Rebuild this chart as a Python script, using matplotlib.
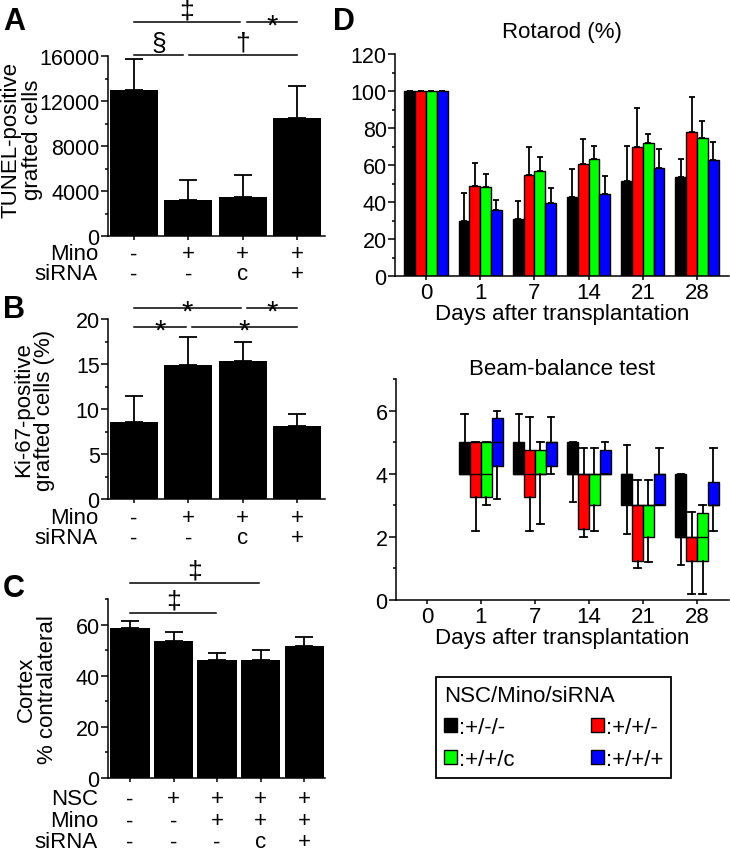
import numpy as np
import matplotlib
matplotlib.use('Agg')
import matplotlib.pyplot as plt
import matplotlib.transforms as mtransforms
from matplotlib.ticker import MultipleLocator

plt.rcParams['font.family'] = ['Liberation Sans', 'DejaVu Sans']
plt.rcParams['font.size'] = 16
plt.rcParams['axes.linewidth'] = 1.1

W, H = 730, 853

# ---- data ----
a_means = [13000, 3200, 3500, 10500]
a_errs = [2700, 1800, 1900, 2800]
b_means = [8.6, 14.9, 15.3, 8.1]
b_errs = [2.8, 3.1, 2.2, 1.3]
c_means = [58.5, 53.5, 46, 46, 51.5]
c_errs = [3.0, 3.5, 3.0, 4.0, 3.5]

mino_ab = ['-', '+', '+', '+']
sirna_ab = ['-', '-', 'c', '+']
nsc_c = ['-', '+', '+', '+', '+']
mino_c = ['-', '-', '+', '+', '+']
sirna_c = ['-', '-', '-', 'c', '+']

# brackets: (start, end, height in px, symbol)
a_sig = [(0, 1.95, 23, '‡'), (2.08, 3, 23, '*'), (0, 0.9, 56, '§'), (1.01, 3, 56, '†')]
b_sig = [(0, 1.97, 309, '*'), (2.08, 3, 309, '*'), (0, 0.96, 328, '*'), (1.07, 3, 328, '*')]
c_sig = [(0, 2.97, 584, '‡'), (0, 1.98, 614, '‡')]

days = ['0', '1', '7', '14', '21', '28']
groups = [':+/-/-', ':+/+/-', ':+/+/c', ':+/+/+']
colors = ['#000000', '#ff0000', '#00ff00', '#0000ff']

rota_means = [[100, 30, 30.6, 42.7, 51.4, 53.3],
              [100, 48.6, 54.4, 60.5, 69.9, 78.0],
              [100, 48.1, 56.8, 63.2, 71.7, 74.8],
              [100, 35.7, 39.5, 44.3, 58.2, 62.5]]
rota_tops = [[100, 44.9, 40.4, 58.0, 70.5, 63.2],
             [100, 61.0, 69.9, 74.0, 91.0, 96.8],
             [100, 55.3, 64.2, 70.5, 76.8, 83.6],
             [100, 41.0, 47.4, 54.2, 68.6, 72.4]]

# beam balance: (whislo, q1, med, q3, whishi) per group, days 1..28
beam_black = [(4, 4, 4, 5, 5.9), (4, 4, 4, 5, 5.9), (3.1, 4, 4, 5, 5),
              (2.1, 3, 4, 4, 4.9), (1.1, 2, 2, 4, 4)]
beam_red = [(2.2, 3.25, 4, 5, 5), (2.2, 3.25, 4, 4.75, 5.8), (2, 2.25, 4, 4, 4.8),
            (1, 1.25, 3, 3, 3.8), (0.2, 1.25, 2, 2, 2.8)]
beam_green = [(3, 3.25, 4, 5, 5), (2.4, 4, 4, 4.75, 5), (2.2, 3, 4, 4, 4.8),
              (1.2, 2, 3, 3, 3.8), (0.2, 1.25, 2, 2.75, 3)]
beam_blue = [(3.2, 4.25, 5, 5.75, 6), (4, 4.25, 5, 5, 5.8), (4, 4, 4, 4.75, 5),
             (3, 3, 4, 4, 4.8), (2.2, 3, 3, 3.75, 4.8)]
beam_sets = [beam_black, beam_red, beam_green, beam_blue]


def rect(l, t, r, b):
    return [l / W, 1 - b / H, (r - l) / W, (b - t) / H]


def fy(px):
    return 1 - px / H


fig = plt.figure(figsize=(W / 100, H / 100), dpi=100)


def style_axis(ax):
    for s in ['top', 'right']:
        ax.spines[s].set_visible(False)
    ax.tick_params(axis='both', which='major', direction='out', length=5, width=1.1, pad=1,
                   labelsize=15.5)
    ax.tick_params(axis='y', which='minor', direction='out', length=2.5, width=1.1)
    ax.tick_params(axis='x', which='major', length=3)


def bar_panel(ax, means, errs, xlim, ylim, major, minor, width):
    x = np.arange(len(means))
    ax.bar(x, means, width=width, color='black')
    ax.errorbar(x, means, yerr=[np.zeros(len(errs)), errs], fmt='none', ecolor='black',
                elinewidth=1.3, capsize=6.5, capthick=1.3)
    ax.set_xlim(*xlim)
    ax.set_ylim(*ylim)
    ax.set_xticks(x)
    ax.set_xticklabels([])
    ax.yaxis.set_major_locator(MultipleLocator(major))
    ax.yaxis.set_minor_locator(MultipleLocator(minor))
    style_axis(ax)


def rows(ax, labels, values, ys):
    tr = mtransforms.blended_transform_factory(ax.transData, fig.transFigure)
    for lab, vals, y in zip(labels, values, ys):
        fig.text(98 / W, fy(y), lab, ha='right', va='center', fontsize=16)
        for i, v in enumerate(vals):
            ax.text(i, fy(y), v, transform=tr, ha='center', va='center', fontsize=16)


def brackets(ax, sig):
    tr = mtransforms.blended_transform_factory(ax.transData, fig.transFigure)
    for x0, x1, y, sym in sig:
        ax.plot([x0, x1], [fy(y), fy(y)], color='black', lw=1.1, transform=tr, clip_on=False)
        if sym == '*':
            ax.text((x0 + x1) / 2, fy(y + 12), sym, transform=tr, ha='center', va='baseline',
                    fontsize=21)
        else:
            ax.text((x0 + x1) / 2, fy(y - 5), sym, transform=tr, ha='center', va='baseline',
                    fontsize=19)


# ---- A ----
axA = fig.add_axes(rect(108, 57, 325, 237))
bar_panel(axA, a_means, a_errs, (-0.479, 3.515), (0, 16000), 4000, 2000, 0.88)
axA.set_ylabel('TUNEL-positive\ngrafted cells', linespacing=1.0, fontsize=16)
axA.yaxis.set_label_coords(-0.300, 0.54)
rows(axA, ['Mino', 'siRNA'], [mino_ab, sirna_ab], [255, 275])
brackets(axA, a_sig)

# ---- B ----
axB = fig.add_axes(rect(108, 320, 325, 500))
bar_panel(axB, b_means, b_errs, (-0.479, 3.515), (0, 20), 5, 2.5, 0.88)
axB.set_ylabel('Ki-67-positive\ngrafted cells (%)', linespacing=1.0, fontsize=16)
axB.yaxis.set_label_coords(-0.244, 0.5)
rows(axB, ['Mino', 'siRNA'], [mino_ab, sirna_ab], [519, 539])
brackets(axB, b_sig)

# ---- C ----
axC = fig.add_axes(rect(108, 600, 325, 779))
bar_panel(axC, c_means, c_errs, (-0.506, 4.48), (0, 70), 20, 10, 0.9)
axC.set_ylabel('Cortex\n% contralateral', linespacing=1.0, fontsize=16)
axC.yaxis.set_label_coords(-0.23, 0.5)
rows(axC, ['NSC', 'Mino', 'siRNA'], [nsc_c, mino_c, sirna_c], [800, 822, 843])
brackets(axC, c_sig)

# ---- D top: Rotarod ----
axD1 = fig.add_axes(rect(395, 55, 729, 277))
xd = np.arange(len(days))
offsets = [-0.3, -0.1, 0.1, 0.3]
handles = []
for k in range(4):
    means = np.array(rota_means[k])
    tops = np.array(rota_tops[k])
    bc = axD1.bar(xd + offsets[k], means, width=0.2, color=colors[k], edgecolor='black',
                  linewidth=1.0, zorder=2)
    handles.append(bc)
    axD1.errorbar(xd + offsets[k], means, yerr=[np.zeros(len(means)), tops - means],
                  fmt='none', ecolor='black', elinewidth=1.3, capsize=2.5, capthick=1.3,
                  zorder=3)
axD1.set_xlim(-0.572, 5.59)
axD1.set_ylim(0, 120)
axD1.set_xticks(xd)
axD1.set_xticklabels(days, fontsize=16)
axD1.yaxis.set_major_locator(MultipleLocator(20))
axD1.yaxis.set_minor_locator(MultipleLocator(10))
style_axis(axD1)
axD1.tick_params(axis='x', labelsize=16, pad=1.5)
axD1.set_title('Rotarod (%)', fontsize=16, pad=12)
axD1.set_xlabel('Days after transplantation', fontsize=16, labelpad=0)

# ---- D bottom: Beam-balance ----
axD2 = fig.add_axes(rect(396, 380, 729, 601))
for k in range(4):
    stats = []
    for lo, q1, med, q3, hi in beam_sets[k]:
        stats.append({'whislo': lo, 'q1': q1, 'med': med, 'q3': q3, 'whishi': hi,
                      'fliers': []})
    axD2.bxp(stats, positions=xd[1:] + offsets[k], widths=0.2, patch_artist=True,
             showfliers=False, manage_ticks=False, capwidths=0.12,
             boxprops=dict(facecolor=colors[k], edgecolor='black', linewidth=1.0),
             medianprops=dict(color='black', linewidth=1.0),
             whiskerprops=dict(color='black', linewidth=1.3),
             capprops=dict(color='black', linewidth=1.3))
axD2.set_xlim(-0.572, 5.59)
axD2.set_ylim(0, 7)
axD2.set_xticks(xd)
axD2.set_xticklabels(days, fontsize=16)
axD2.yaxis.set_major_locator(MultipleLocator(2))
axD2.yaxis.set_minor_locator(MultipleLocator(1))
style_axis(axD2)
axD2.tick_params(axis='x', labelsize=16, pad=1.5)
axD2.set_title('Beam-balance test', fontsize=16, pad=3.5)
axD2.set_xlabel('Days after transplantation', fontsize=16, labelpad=0)

# ---- legend ----
order = [0, 2, 1, 3]
leg = fig.legend([handles[i] for i in order], [groups[i] for i in order], ncol=2,
                 loc='upper left', bbox_to_anchor=(436 / W, fy(678)),
                 title='NSC/Mino/siRNA', alignment='left', fontsize=16, title_fontsize=16,
                 frameon=True, fancybox=False, edgecolor='black', framealpha=1,
                 handlelength=0.6, handleheight=0.6, handletextpad=0.1,
                 columnspacing=3.4, borderpad=0.35, labelspacing=0.5, borderaxespad=0)
leg.get_frame().set_linewidth(1.3)

# ---- panel letters ----
for lab, x, y in [('A', 3, 30), ('B', 3, 318), ('C', 3, 597), ('D', 333, 30)]:
    fig.text(x / W, fy(y), lab, fontsize=22, fontweight='bold', va='baseline')

fig.savefig('out.png', dpi=100)
